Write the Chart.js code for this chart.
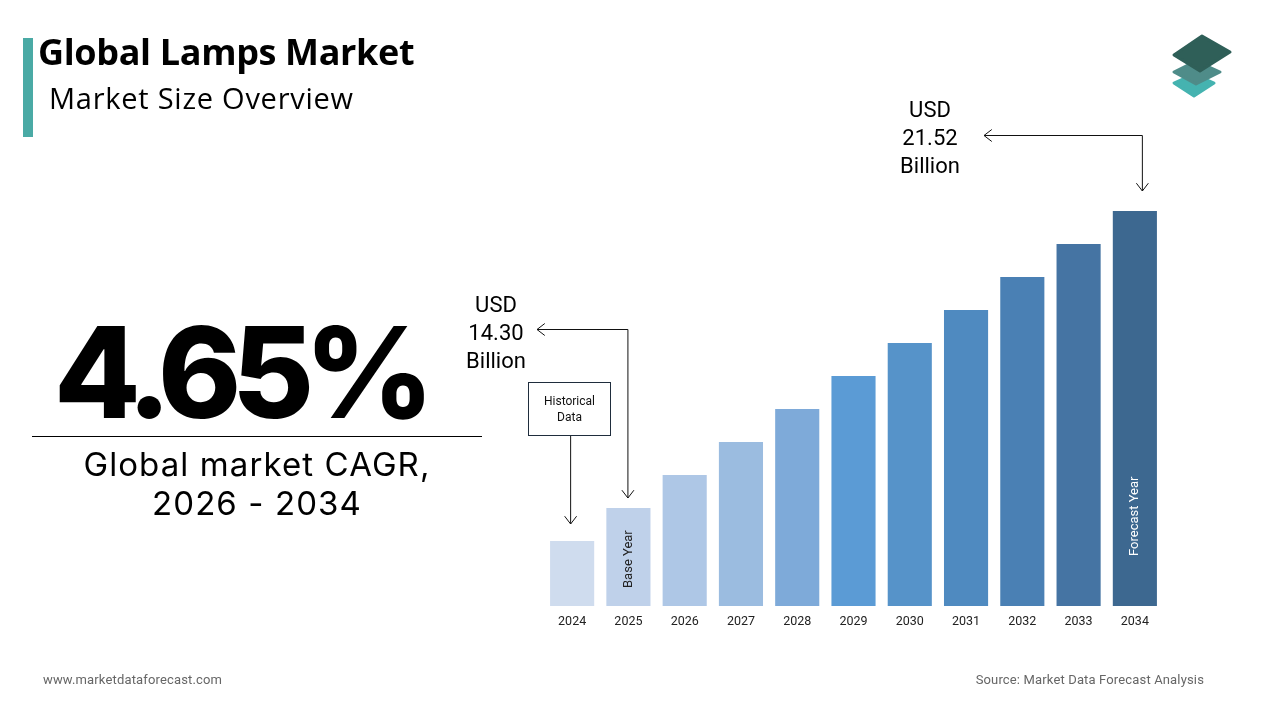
<!DOCTYPE html>
<html>
<head>
<meta charset="utf-8">
<script src="https://cdn.jsdelivr.net/npm/chart.js@4.4.1/dist/chart.umd.min.js"></script>
<style>
  html,body{margin:0;padding:0;background:#fff;}
  #wrap{position:relative;width:1280px;height:720px;overflow:hidden;background:#fff;}
  #chart{position:absolute;left:0;top:0;}
  .t{position:absolute;white-space:nowrap;color:#000;}
  #title{left:38px;top:27px;font-family:"Open Sans",sans-serif;font-weight:700;font-size:36px;letter-spacing:-0.35px;}
  #sub{left:49px;top:78px;font-family:"Open Sans",sans-serif;font-size:29px;letter-spacing:0.75px;}
  #bar{position:absolute;left:23px;top:38px;width:10px;height:99px;background:#4aaaa5;}
  #cagr{left:54px;top:297px;font-family:Inter,sans-serif;font-weight:800;font-size:126px;letter-spacing:-9.5px;line-height:150px;}
  #rule{position:absolute;left:32px;top:436px;width:450px;height:1px;background:#000;}
  #cagrlbl{left:32px;width:450px;top:445px;text-align:center;font-family:Inter,sans-serif;font-size:33px;letter-spacing:1.1px;line-height:39px;white-space:normal;}
  .call{position:absolute;text-align:center;font-family:Roboto,sans-serif;font-size:22px;line-height:28px;color:#000;}
  #c1{left:446px;width:100px;top:291px;}
  #c2{left:880px;width:100px;top:96px;}
  #hist{position:absolute;left:528px;top:382px;width:81px;height:52px;border:1px solid #1f2d3d;font-family:Roboto,sans-serif;font-size:12px;line-height:16px;text-align:center;display:flex;align-items:center;justify-content:center;color:#111;}
  .foot{position:absolute;top:672px;font-family:Roboto,sans-serif;font-size:13px;letter-spacing:0.15px;color:#666;}
  #f1{left:43px;}
  #f2{right:76px;}
  #logo{position:absolute;left:1166px;top:30px;}
</style>
</head>
<body>
<div id="wrap">
  <canvas id="chart" width="1280" height="720"></canvas>
  <div id="bar"></div>
  <div class="t" id="title">Global Lamps Market</div>
  <div class="t" id="sub">Market Size Overview</div>
  <div class="t" id="cagr">4.65%</div>
  <div id="rule"></div>
  <div class="t" id="cagrlbl">Global market CAGR,<br>2026 - 2034</div>
  <div class="call" id="c1">USD<br>14.30<br>Billion</div>
  <div class="call" id="c2">USD<br>21.52<br>Billion</div>
  <div id="hist">Historical<br>Data</div>
  <div class="foot" id="f1">www.marketdataforecast.com</div>
  <div class="foot" id="f2">Source: Market Data Forecast Analysis</div>
  <svg id="logo" width="72" height="72" viewBox="0 0 72 72">
    <path d="M28 44 L8 53 L28 66 L48 53 Z" fill="#45b3b0" stroke="#45b3b0" stroke-width="3" stroke-linejoin="round"/>
    <path d="M30 31 L8 42 L30 54 L54 42 Z" fill="#4f8c89" stroke="#4f8c89" stroke-width="3" stroke-linejoin="round"/>
    <path d="M36 6 L8 25 L34 41 L64 22 Z" fill="#2f5f58" stroke="#2f5f58" stroke-width="3" stroke-linejoin="round"/>
  </svg>
</div>
<script>
const years = ["2024","2025","2026","2027","2028","2029","2030","2031","2032","2033","2034"];
const values = [65, 98, 131, 164, 197, 230, 263, 296, 329, 362, 395];
const barColors = ["#cfdcee","#bfd1ea","#aec7e6","#9bbce0","#7eaad9","#5b9bd5","#5693c9","#4f8ac0","#4a80b4","#4574a3","#3d6890"];
const innerLabels = {"2025":{text:"Base Year",color:"#222",gap:18},"2034":{text:"Forecast Year",color:"#fff",gap:50}};

function arrowHead(ctx, x, y, dir){
  const s = 6;
  ctx.beginPath();
  if(dir==='down'){ctx.moveTo(x-s,y-s*1.3);ctx.lineTo(x,y);ctx.lineTo(x+s,y-s*1.3);}
  if(dir==='left'){ctx.moveTo(x+s*1.3,y-s);ctx.lineTo(x,y);ctx.lineTo(x+s*1.3,y+s);}
  ctx.stroke();
}

const annot = {
  id:'annot',
  afterDatasetsDraw(chart){
    const ctx = chart.ctx;
    const meta = chart.getDatasetMeta(0);
    const ys = chart.scales.y;
    ctx.save();
    meta.data.forEach((bar,i)=>{
      const lab = innerLabels[years[i]];
      if(!lab) return;
      ctx.save();
      ctx.translate(bar.x, ys.getPixelForValue(0)-lab.gap);
      ctx.rotate(-Math.PI/2);
      ctx.font = '13px Roboto, sans-serif';
      ctx.fillStyle = lab.color;
      ctx.textAlign = 'left';
      ctx.textBaseline = 'middle';
      ctx.fillText(lab.text, 0, 0);
      ctx.restore();
    });
    ctx.strokeStyle = '#111';
    ctx.lineWidth = 1;
    const b0 = meta.data[0];
    ctx.beginPath(); ctx.moveTo(b0.x-1.5, 436); ctx.lineTo(b0.x-1.5, b0.y-17); ctx.stroke();
    arrowHead(ctx, b0.x-1.5, b0.y-17, 'down');
    const b1 = meta.data[1];
    ctx.beginPath(); ctx.moveTo(537, 329.5); ctx.lineTo(b1.x-0.5, 329.5); ctx.lineTo(b1.x-0.5, b1.y-10); ctx.stroke();
    arrowHead(ctx, b1.x-0.5, b1.y-10, 'down');
    arrowHead(ctx, 537, 329.5, 'left');
    const b10 = meta.data[10];
    const ax = b10.x+7.5;
    ctx.beginPath(); ctx.moveTo(984, 135.5); ctx.lineTo(ax, 135.5); ctx.lineTo(ax, b10.y-20); ctx.stroke();
    arrowHead(ctx, ax, b10.y-20, 'down');
    arrowHead(ctx, 984, 135.5, 'left');
    ctx.restore();
  }
};

new Chart(document.getElementById('chart'), {
  type:'bar',
  data:{labels:years, datasets:[{data:values, backgroundColor:barColors, borderWidth:0, categoryPercentage:0.8, barPercentage:0.98}]},
  options:{
    responsive:false, animation:false,
    layout:{padding:{left:544, right:117, top:211, bottom:83}},
    plugins:{legend:{display:false}, tooltip:{enabled:false}},
    scales:{
      x:{grid:{display:false, drawTicks:false}, border:{display:false},
         ticks:{color:'#222', font:{family:'Roboto', size:12.5}, padding:8, maxRotation:0}},
      y:{display:false, min:0, max:395}
    }
  },
  plugins:[annot]
});
</script>
</body>
</html>
